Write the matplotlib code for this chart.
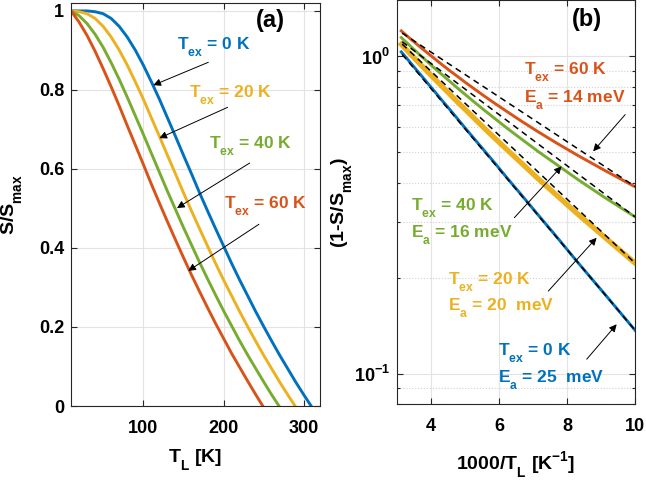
import numpy as np
import matplotlib
matplotlib.use("Agg")
import matplotlib.pyplot as plt
import matplotlib._mathtext as mt
from matplotlib.ticker import NullFormatter, LogLocator, FixedLocator

plt.rcParams['font.family'] = ['Liberation Sans', 'DejaVu Sans']
plt.rcParams['font.weight'] = 'bold'
plt.rcParams['axes.labelweight'] = 'bold'
plt.rcParams['mathtext.fontset'] = 'custom'
plt.rcParams['mathtext.rm'] = 'Liberation Sans:bold'
plt.rcParams['mathtext.bf'] = 'Liberation Sans:bold'
plt.rcParams['mathtext.it'] = 'Liberation Sans:bold'
plt.rcParams['mathtext.default'] = 'bf'
# MATLAB-like subscripts: sit lower than matplotlib's default
mt.FontConstantsBase.sub1 = 0.8
mt.FontConstantsBase.sup1 = 0.8

# lattice temperature grid [K] and normalised signal for each Tex
T_L = np.arange(10, 330, 10)
s_tex0 = [1.000, 1.000, 1.000, 0.998, 0.993, 0.981, 0.961, 0.934, 0.901, 0.863,
          0.821, 0.777, 0.730, 0.683, 0.635, 0.588, 0.540, 0.494, 0.449, 0.405,
          0.361, 0.319, 0.279, 0.239, 0.201, 0.164, 0.128, 0.094, 0.060, 0.028,
          -0.003, -0.033]
s_tex20 = [1.000, 0.998, 0.993, 0.981, 0.961, 0.934, 0.901, 0.863, 0.821, 0.777,
           0.730, 0.683, 0.635, 0.588, 0.540, 0.494, 0.449, 0.405, 0.361, 0.319,
           0.279, 0.239, 0.201, 0.164, 0.128, 0.094, 0.060, 0.028, -0.003, -0.033,
           -0.063, -0.091]
s_tex40 = [1.000, 0.988, 0.968, 0.941, 0.908, 0.869, 0.827, 0.782, 0.735, 0.688,
           0.640, 0.592, 0.544, 0.498, 0.452, 0.408, 0.364, 0.322, 0.281, 0.241,
           0.203, 0.165, 0.129, 0.095, 0.061, 0.028, -0.003, -0.034, -0.063, -0.092,
           -0.119, -0.146]
s_tex60 = [1.000, 0.972, 0.938, 0.898, 0.854, 0.808, 0.760, 0.710, 0.661, 0.612,
           0.562, 0.514, 0.467, 0.421, 0.376, 0.332, 0.290, 0.249, 0.209, 0.171,
           0.133, 0.098, 0.063, 0.029, -0.004, -0.035, -0.065, -0.095, -0.123, -0.150,
           -0.177, -0.203]
tex_labels = ['0', '20', '40', '60']

# Arrhenius fits (panel b): value of (1-S/Smax) at the two ends
fit_x = [3.15, 10.0]
fit_tex0 = [1.015, 0.137]
fit_tex20 = [1.093, 0.223]
fit_tex40 = [1.112, 0.312]
fit_tex60 = [1.184, 0.389]
ea_labels = ['25  meV', '20  meV', '16 meV', '14 meV']

colors = ['#0072BD', '#EDB120', '#77AC30', '#D95319']
curves = [s_tex0, s_tex20, s_tex40, s_tex60]
fits = [fit_tex0, fit_tex20, fit_tex40, fit_tex60]

fig = plt.figure(figsize=(6.46, 4.88), dpi=100)
axa = fig.add_axes([0.1099, 0.168, 0.3854, 0.8258])
axb = fig.add_axes([0.6146, 0.1715, 0.3684, 0.8275])

edge = '#262626'
for ax in (axa, axb):
    for sp in ax.spines.values():
        sp.set_color(edge)
        sp.set_linewidth(0.8)
    ax.tick_params(which='both', direction='in', top=True, right=True,
                   colors=edge, labelcolor='black', labelsize=13, width=0.8)
    ax.tick_params(which='major', length=4.5)
    ax.tick_params(which='minor', length=2.5)
    ax.set_axisbelow(True)

# panel (a)
for s, c in zip(curves, colors):
    axa.plot(T_L, s, color=c, lw=2.1, clip_on=True)
axa.set_xlim(10, 320)
axa.set_ylim(0, 1.02)
axa.set_xticks([100, 200, 300])
axa.set_yticks([0, 0.2, 0.4, 0.6, 0.8, 1.0])
axa.set_yticklabels(['0', '0.2', '0.4', '0.6', '0.8', '1'])
axa.tick_params(axis='x', pad=10)
axa.tick_params(axis='y', pad=5)
axa.grid(True, color='#e3e3e3', lw=0.8)
axa.set_xlabel('T$_L$ [K]', fontsize=14, labelpad=7)
axa.set_ylabel('S/S$_{max}$', fontsize=14, labelpad=11)

text_a = [(142.5, 0.901), (156.6, 0.781), (181.7, 0.652), (201.0, 0.500)]
arrow_a = [((181, 0.870), (112.5, 0.812)), ((205, 0.756), (120, 0.678)),
           ((232.5, 0.615), (142, 0.501)), ((244, 0.460), (156, 0.342))]
for (tx, ty), lab, c in zip(text_a, tex_labels, colors):
    axa.text(tx, ty, 'T$_{ex}$ = ' + lab + ' K', color=c, fontsize=12.5,
             ha='left', va='baseline')
for start, end in arrow_a:
    axa.annotate('', xy=end, xytext=start,
                 arrowprops=dict(arrowstyle='-|>', color='black', lw=0.7,
                                 mutation_scale=11, shrinkA=0, shrinkB=0))
axa.text(258.75, 0.976, '(a)', fontsize=17, ha='center', va='center')

# panel (b)
inv_T = 1000.0 / T_L[9:]
lws = [2.1, 3.8, 2.1, 2.1]
for i in range(4):
    y = 1 - np.array(curves[i])[9:]
    axb.plot(inv_T, y, color=colors[i], lw=lws[i])
for f in fits:
    axb.plot(fit_x, f, color='black', lw=1.1, ls=(0, (4, 3)))
axb.set_yscale('log')
axb.set_xlim(3, 10)
axb.set_ylim(0.08, 1.5)
axb.set_xticks([4, 6, 8, 10])
axb.yaxis.set_major_locator(FixedLocator([0.1, 1.0]))
axb.yaxis.set_minor_locator(LogLocator(base=10, subs=np.arange(2, 10)))
axb.yaxis.set_minor_formatter(NullFormatter())
axb.tick_params(axis='x', pad=10)
axb.tick_params(axis='y', pad=5)
axb.grid(True, which='major', color='#e3e3e3', lw=0.8)
axb.grid(True, which='minor', axis='y', color='#d0d0d0', lw=0.8, ls=':')
axb.set_xlabel('1000/T$_L$ [K$^{-1}$]', fontsize=14, labelpad=10)
axb.set_ylabel('(1-S/S$_{max}$)', fontsize=14, labelpad=0)

text_b = [((5.98, 0.1139), (5.98, 0.0935)), ((4.51, 0.1907), (4.51, 0.1572)),
          ((3.40, 0.3264), (3.40, 0.2677)), ((6.745, 0.876), (6.745, 0.716))]
arrow_b = [((8.58, 0.111), (9.46, 0.143)), ((7.45, 0.182), (8.87, 0.268)),
           ((6.45, 0.310), (7.84, 0.450)), ((9.71, 0.655), (8.77, 0.502))]
for (p1, p2), lab, ea, c in zip(text_b, tex_labels, ea_labels, colors):
    axb.text(p1[0], p1[1], 'T$_{ex}$ = ' + lab + ' K', color=c, fontsize=12.5,
             ha='left', va='baseline')
    axb.text(p2[0], p2[1], 'E$_a$ = ' + ea, color=c, fontsize=12.5,
             ha='left', va='baseline')
for start, end in arrow_b:
    axb.annotate('', xy=end, xytext=start,
                 arrowprops=dict(arrowstyle='-|>', color='black', lw=0.7,
                                 mutation_scale=11, shrinkA=0, shrinkB=0))
axb.text(8.59, 1.305, '(b)', fontsize=17, ha='center', va='center')

fig.savefig('out.png', dpi=100)
